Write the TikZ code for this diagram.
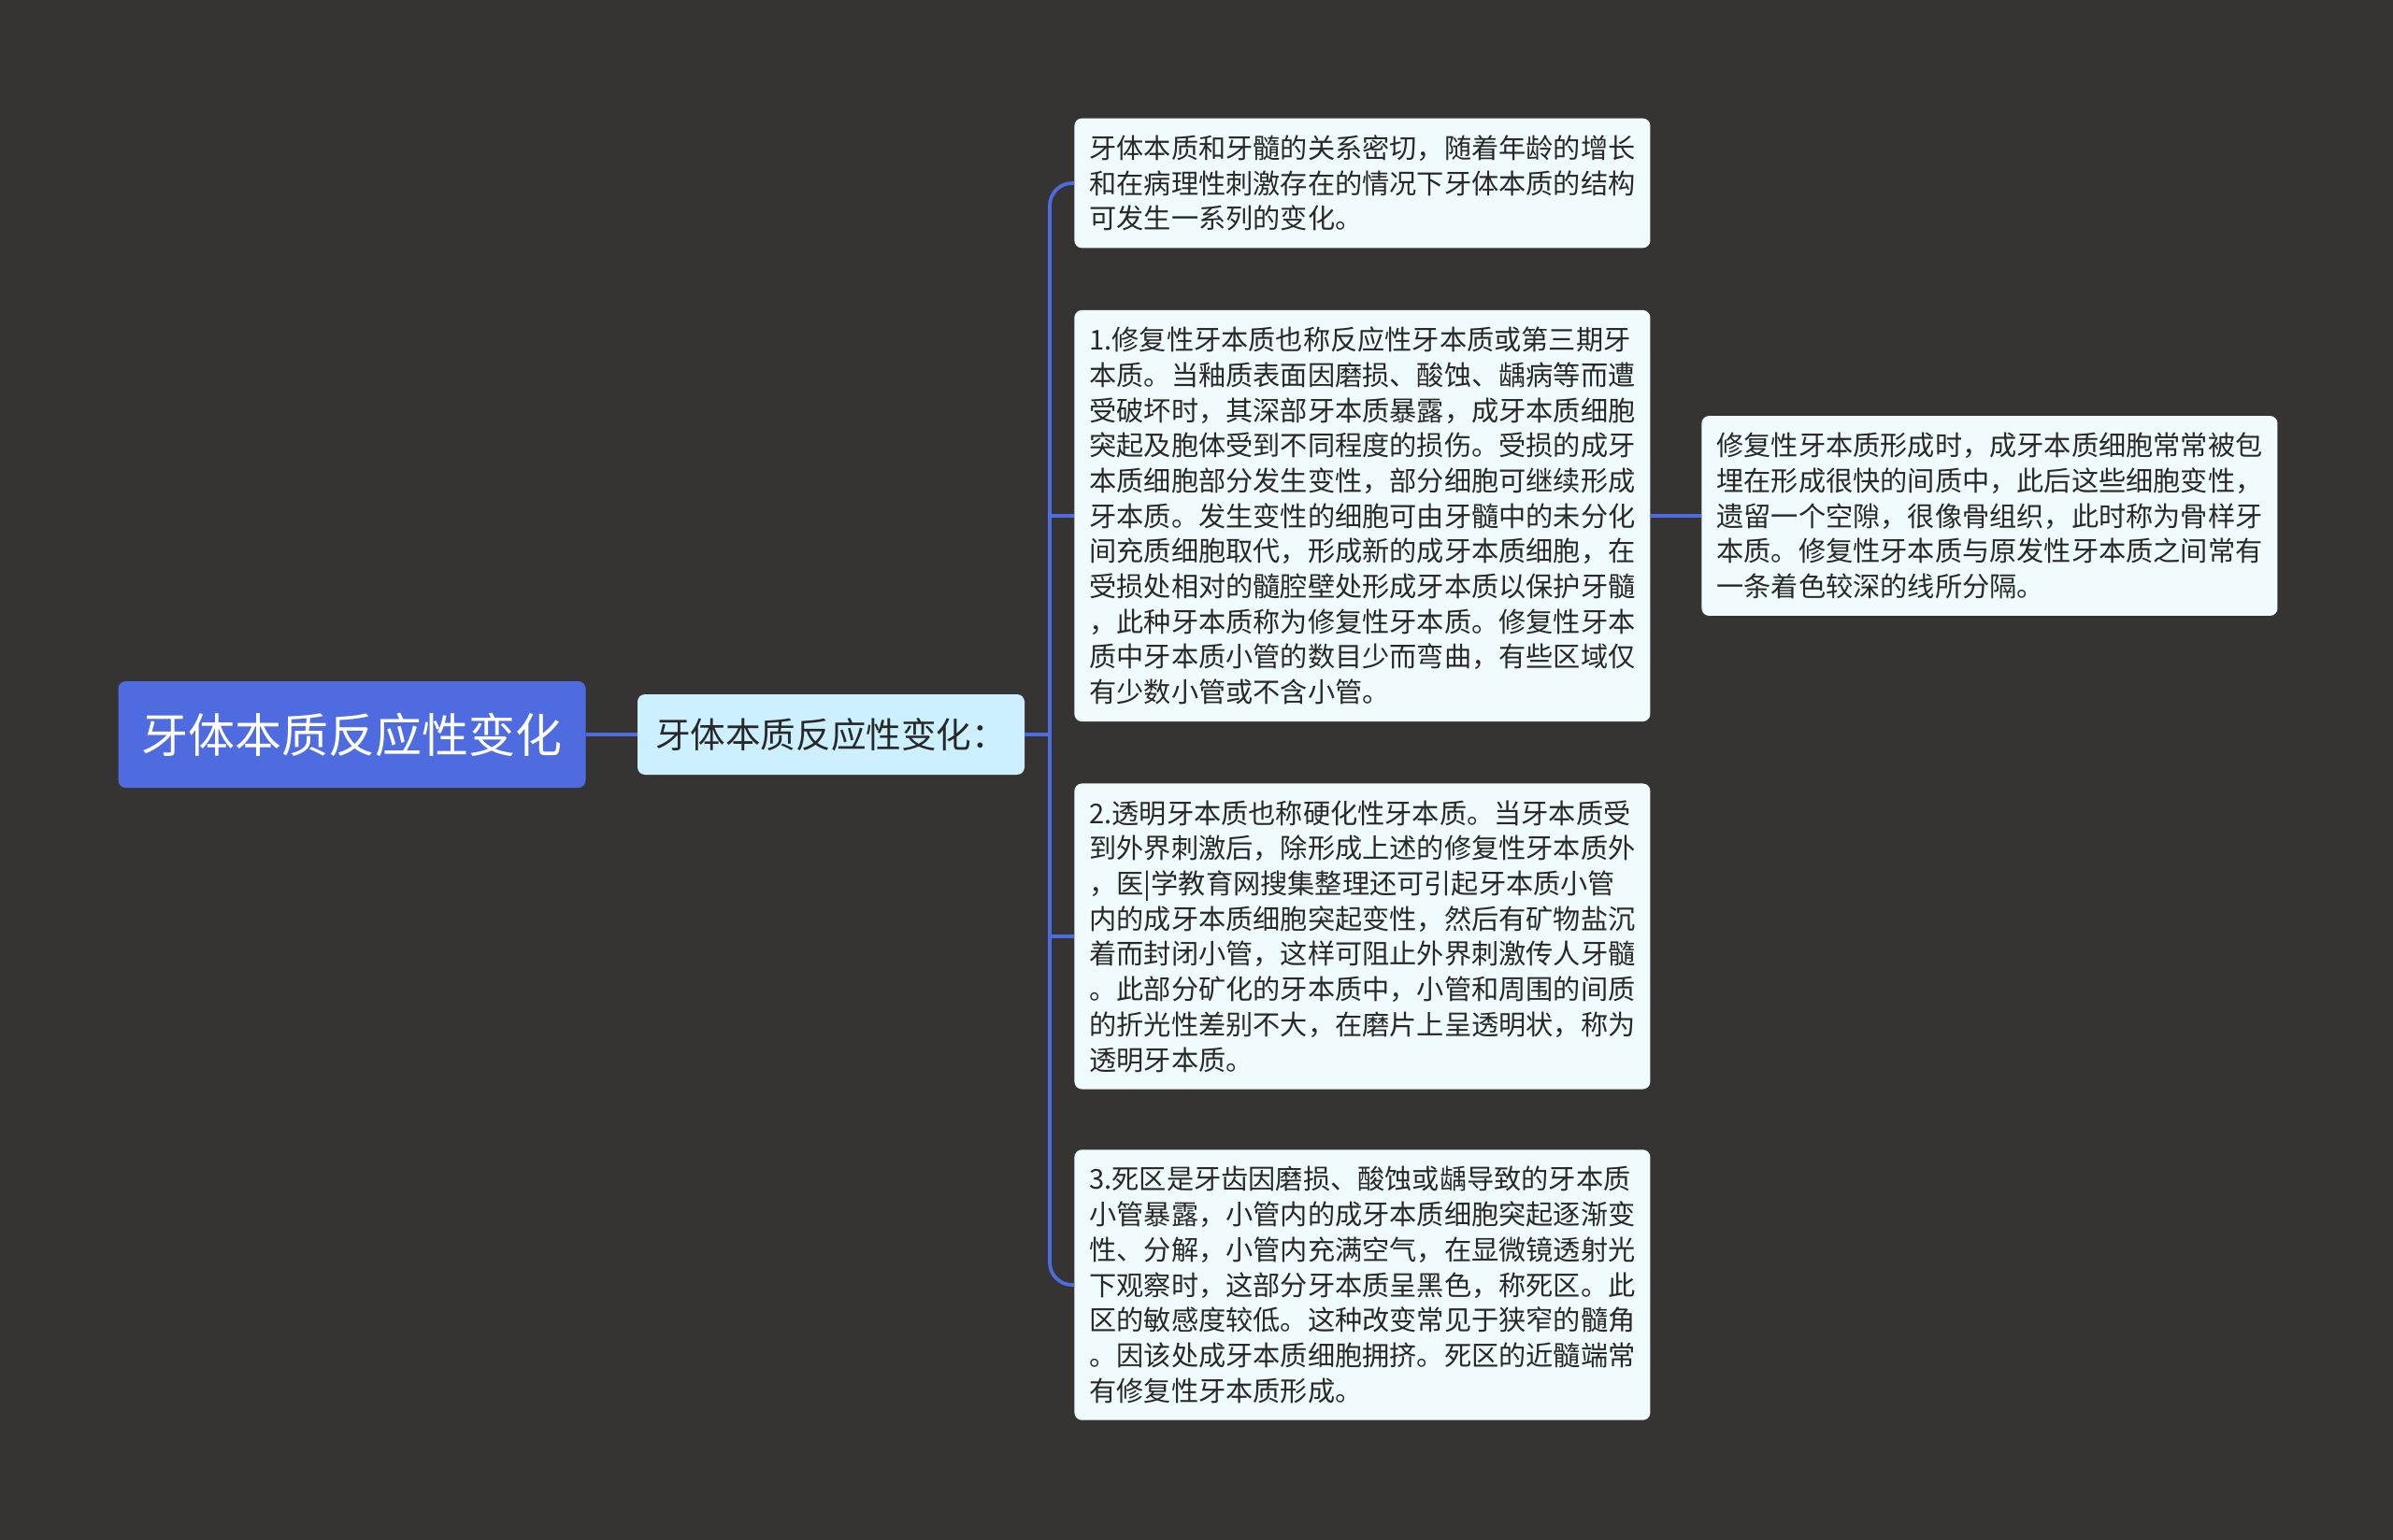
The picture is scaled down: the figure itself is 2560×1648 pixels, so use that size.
\documentclass[tikz,border=0pt]{standalone}
\usepackage{fontspec}
\setmainfont{Noto Sans CJK SC}
\usepackage{xcolor}
\usepackage{tikz}
\usetikzlibrary{positioning}
\definecolor{canvasgray}{RGB}{54,51,51}
\definecolor{mapblue}{RGB}{78,108,224}
\definecolor{paleblue}{RGB}{204,240,255}
\definecolor{paleleaf}{RGB}{240,251,253}
\definecolor{inkgray}{RGB}{40,40,40}

\begin{document}
\begin{tikzpicture}[x=0.5pt,y=-0.5pt,
  topic/.style={fill=mapblue, rounded corners=4pt, text=white, minimum width=250pt, minimum height=57pt, font=\fontsize{25}{30}\selectfont},
  subtopic/.style={fill=paleblue, rounded corners=4pt, text=inkgray, minimum width=207pt, minimum height=43pt, font=\fontsize{18.8}{22}\selectfont},
  leaf/.style={fill=paleleaf, rounded corners=4pt, text=inkgray, anchor=west, text width=292pt, align=left, inner xsep=8pt, inner ysep=9pt, font=\fontsize{14.6}{18.85}\selectfont},
  link/.style={draw=mapblue, line width=1.9pt}]
  \fill[canvasgray] (0,0) rectangle (2560,1648);
  \useasboundingbox (0,0) rectangle (2560,1648);

  \node[topic] (root) at (376.5,786) {牙体本质反应性变化};
  \node[subtopic] (sub) at (889,786) {牙体本质反应性变化：};
  \coordinate (bus) at (1123,786);

  \node[leaf] (leafA) at (1149,196) {牙体本质和牙髓的关系密切，随着年龄的增长\\
和在病理性刺激存在的情况下牙体本质的结构\\
可发生一系列的变化。};
  \node[leaf] (leafB) at (1149,552) {1.修复性牙本质也称反应性牙本质或第三期牙\\
本质。当釉质表面因磨损、酸蚀、龋病等而遭\\
受破坏时，其深部牙本质暴露，成牙本质细胞\\
突起及胞体受到不同程度的损伤。受损的成牙\\
本质细胞部分发生变性，部分细胞可继续形成\\
牙本质。发生变性的细胞可由牙髓中的未分化\\
间充质细胞取代，形成新的成牙本质细胞，在\\
受损处相对的髓腔壁处形成牙本质以保护牙髓\\
，此种牙本质称为修复性牙本质。修复性牙本\\
质中牙本质小管的数目少而弯曲，有些区域仅\\
有少数小管或不含小管。};
  \node[leaf] (leafC) at (1149,1002) {2.透明牙本质也称硬化性牙本质。当牙本质受\\
到外界刺激后，除形成上述的修复性牙本质外\\
，医|学教育网搜集整理还可引起牙本质小管\\
内的成牙本质细胞突起变性，然后有矿物盐沉\\
着而封闭小管，这样可阻止外界刺激传人牙髓\\
。此部分矿化的牙本质中，小管和周围的间质\\
的折光性差别不大，在磨片上呈透明状，称为\\
透明牙本质。};
  \node[leaf] (leafD) at (1149,1375) {3.死区是牙齿因磨损、酸蚀或龋导致的牙本质\\
小管暴露，小管内的成牙本质细胞突起逐渐变\\
性、分解，小管内充满空气，在显微镜透射光\\
下观察时，这部分牙本质呈黑色，称死区。此\\
区的敏感度较低。这种改变常见于狭窄的髓角\\
。因该处成牙本质细胞拥挤。死区的近髓端常\\
有修复性牙本质形成。};
  \node[leaf] (detail) at (1820,552) {修复性牙本质形成时，成牙本质细胞常常被包\\
埋在形成很快的间质中，此后这些细胞变性，\\
遗留一个空隙，很像骨组织，此时称为骨样牙\\
本质。修复性牙本质与原发性牙本质之间常有\\
一条着色较深的线所分隔。};

  % connectors
  \draw[link] (root.east) -- (sub.west);
  \draw[link] (sub.east) -- (bus);
  \draw[link, rounded corners=12pt] (leafA.west) -- (leafA.west -| bus) -- (leafD.west -| bus) -- (leafD.west);
  \draw[link] (leafB.west -| bus) -- (leafB.west);
  \draw[link] (leafC.west -| bus) -- (leafC.west);
  \draw[link] (leafB.east) -- (detail.west);
\end{tikzpicture}
\end{document}
